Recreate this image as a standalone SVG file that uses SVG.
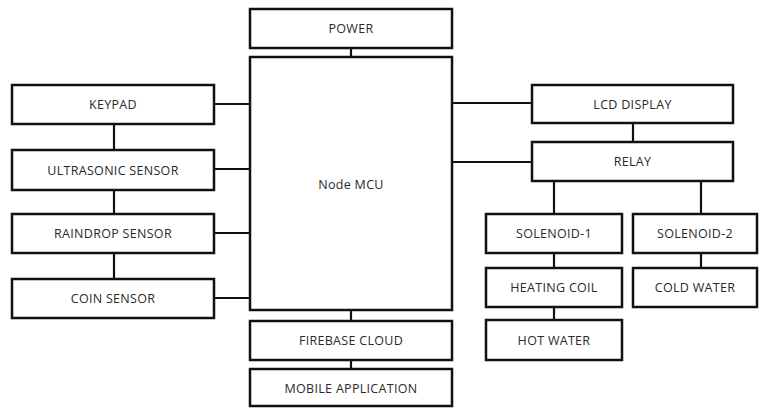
<svg xmlns="http://www.w3.org/2000/svg" width="759" height="409" viewBox="0 0 759 409">
<style>
.b{fill:#fff;stroke:#111;stroke-width:2.5}
.t{font-family:"Open Sans","Liberation Sans",sans-serif;font-size:12.5px;letter-spacing:0.3px;fill:#2a2a2a;text-anchor:middle;dominant-baseline:central}
.c{stroke:#111;stroke-width:2.2;fill:none}
</style>
<rect width="759" height="409" fill="#fff"/>
<g id="connectors">
<line class="c" x1="351" y1="48" x2="351" y2="57"/>
<line class="c" x1="214" y1="104" x2="250" y2="104"/>
<line class="c" x1="214" y1="169" x2="250" y2="169"/>
<line class="c" x1="214" y1="233" x2="250" y2="233"/>
<line class="c" x1="214" y1="298" x2="250" y2="298"/>
<line class="c" x1="114" y1="124" x2="114" y2="150"/>
<line class="c" x1="114" y1="190" x2="114" y2="214"/>
<line class="c" x1="114" y1="253" x2="114" y2="279"/>
<line class="c" x1="351" y1="310" x2="351" y2="321"/>
<line class="c" x1="351" y1="360" x2="351" y2="369"/>
<line class="c" x1="452" y1="103" x2="532" y2="103"/>
<line class="c" x1="452" y1="162" x2="532" y2="162"/>
<line class="c" x1="633" y1="123" x2="633" y2="142"/>
<line class="c" x1="554" y1="181" x2="554" y2="214"/>
<line class="c" x1="701" y1="181" x2="701" y2="214"/>
<line class="c" x1="554" y1="253" x2="554" y2="268"/>
<line class="c" x1="554" y1="307" x2="554" y2="320"/>
<line class="c" x1="701" y1="253" x2="701" y2="268"/>
</g>
<g id="power"><rect class="b" x="250" y="9" width="202" height="39"/><text class="t" x="351" y="28.5">POWER</text></g>
<g id="nodemcu"><rect class="b" x="250" y="57" width="202" height="253"/><text class="t" x="351" y="184">Node MCU</text></g>
<g id="keypad"><rect class="b" x="12" y="85" width="202" height="39"/><text class="t" x="113" y="104.5">KEYPAD</text></g>
<g id="ultrasonic"><rect class="b" x="12" y="150" width="202" height="40"/><text class="t" x="113" y="170">ULTRASONIC SENSOR</text></g>
<g id="raindrop"><rect class="b" x="12" y="214" width="202" height="39"/><text class="t" x="113" y="233.5">RAINDROP SENSOR</text></g>
<g id="coin"><rect class="b" x="12" y="279" width="202" height="39"/><text class="t" x="113" y="298.5">COIN SENSOR</text></g>
<g id="firebase"><rect class="b" x="250" y="321" width="202" height="39"/><text class="t" x="351" y="340.5">FIREBASE CLOUD</text></g>
<g id="mobile"><rect class="b" x="250" y="369" width="202" height="37"/><text class="t" x="351" y="388">MOBILE APPLICATION</text></g>
<g id="lcd"><rect class="b" x="532" y="85" width="201" height="38"/><text class="t" x="632.5" y="104">LCD DISPLAY</text></g>
<g id="relay"><rect class="b" x="532" y="142" width="201" height="39"/><text class="t" x="632.5" y="161.5">RELAY</text></g>
<g id="solenoid1"><rect class="b" x="486" y="214" width="136" height="39"/><text class="t" x="554" y="233.5">SOLENOID-1</text></g>
<g id="solenoid2"><rect class="b" x="633" y="214" width="124" height="39"/><text class="t" x="695" y="233.5">SOLENOID-2</text></g>
<g id="heating"><rect class="b" x="486" y="268" width="136" height="39"/><text class="t" x="554" y="287.5">HEATING COIL</text></g>
<g id="cold"><rect class="b" x="633" y="268" width="124" height="39"/><text class="t" x="695" y="287.5">COLD WATER</text></g>
<g id="hot"><rect class="b" x="486" y="320" width="136" height="40"/><text class="t" x="554" y="340">HOT WATER</text></g>
</svg>
